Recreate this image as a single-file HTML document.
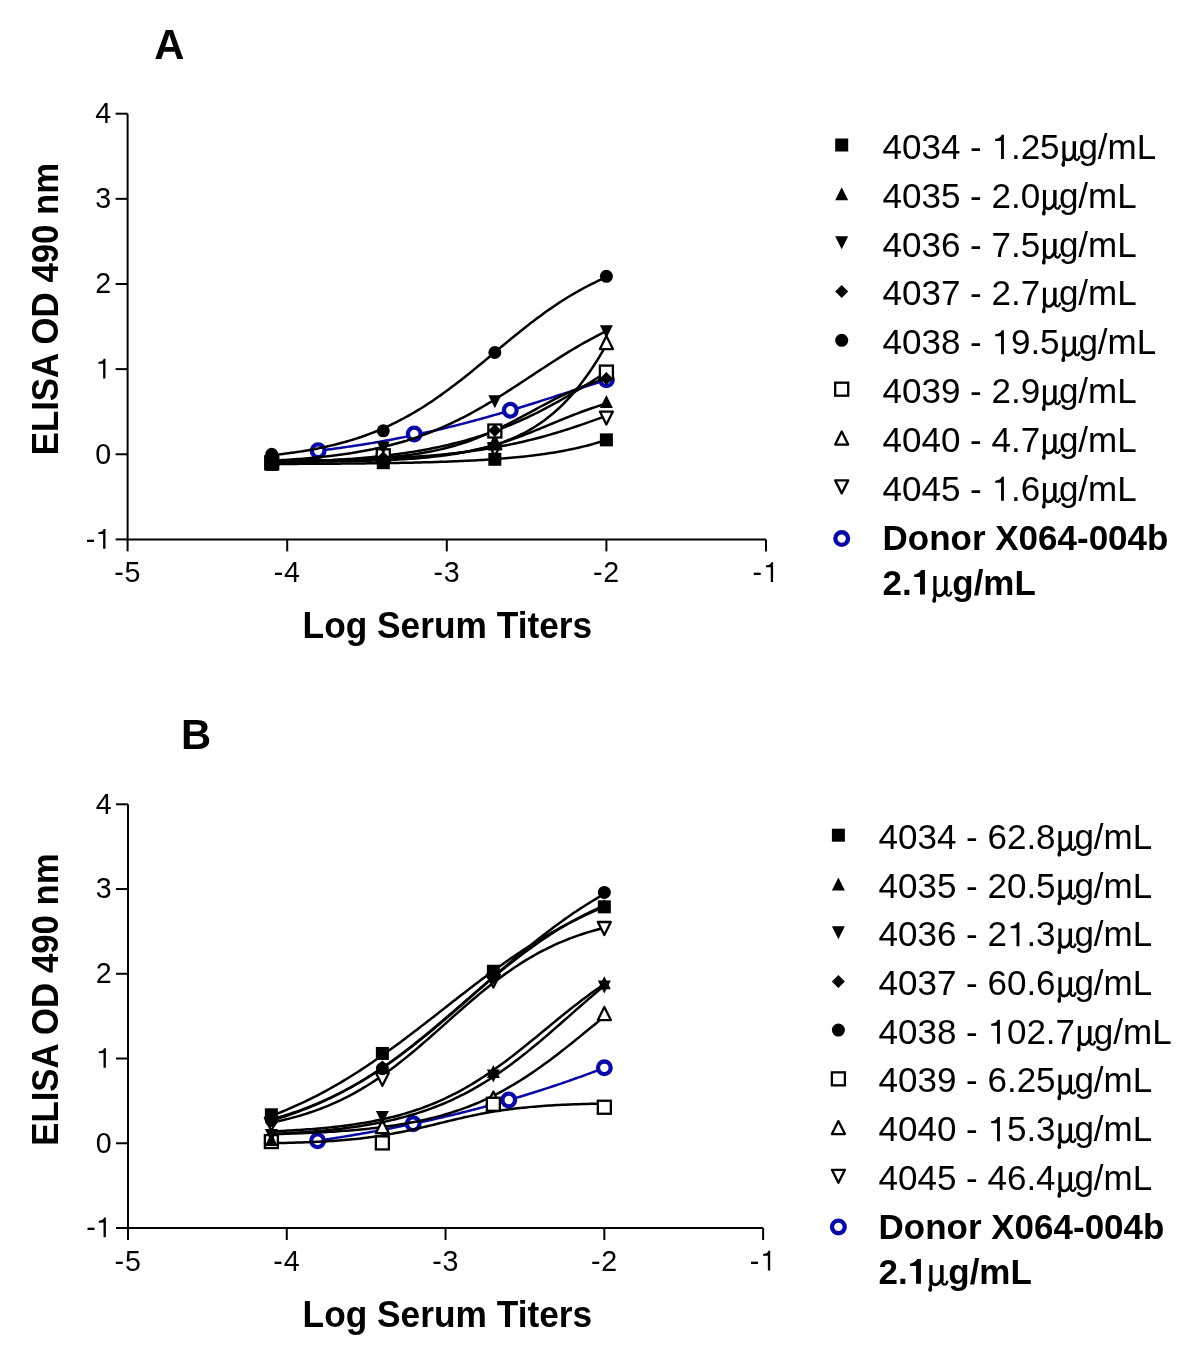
<!DOCTYPE html>
<html><head><meta charset="utf-8"><style>
html,body{margin:0;padding:0;background:#fff;}
svg{display:block;will-change:transform;}
</style></head><body>
<svg width="1196" height="1357" viewBox="0 0 1196 1357">
<rect width="1196" height="1357" fill="#fff"/>
<path d="M127.60,113.70 V539.40 H766.00" fill="none" stroke="#000" stroke-width="2"/>
<line x1="115.60" y1="539.40" x2="127.60" y2="539.40" stroke="#000" stroke-width="2"/>
<text x="85.77" y="548.70" font-size="28.6" font-family="Liberation Sans, sans-serif">- </text><path transform="translate(95.29,548.70) scale(28.6)" d="M0.356,0 L0.356,-0.688 L0.29,-0.688 C0.283,-0.645 0.25,-0.607 0.2,-0.592 C0.16,-0.58 0.13,-0.576 0.107,-0.574 L0.107,-0.512 L0.274,-0.515 L0.274,0 Z" fill="#000"/>
<line x1="115.60" y1="454.26" x2="127.60" y2="454.26" stroke="#000" stroke-width="2"/>
<text x="95.29" y="463.56" font-size="28.6" font-family="Liberation Sans, sans-serif">0</text>
<line x1="115.60" y1="369.12" x2="127.60" y2="369.12" stroke="#000" stroke-width="2"/>
<text x="95.29" y="378.42" font-size="28.6" font-family="Liberation Sans, sans-serif"> </text><path transform="translate(95.29,378.42) scale(28.6)" d="M0.356,0 L0.356,-0.688 L0.29,-0.688 C0.283,-0.645 0.25,-0.607 0.2,-0.592 C0.16,-0.58 0.13,-0.576 0.107,-0.574 L0.107,-0.512 L0.274,-0.515 L0.274,0 Z" fill="#000"/>
<line x1="115.60" y1="283.98" x2="127.60" y2="283.98" stroke="#000" stroke-width="2"/>
<text x="95.29" y="293.28" font-size="28.6" font-family="Liberation Sans, sans-serif">2</text>
<line x1="115.60" y1="198.84" x2="127.60" y2="198.84" stroke="#000" stroke-width="2"/>
<text x="95.29" y="208.14" font-size="28.6" font-family="Liberation Sans, sans-serif">3</text>
<line x1="115.60" y1="113.70" x2="127.60" y2="113.70" stroke="#000" stroke-width="2"/>
<text x="95.29" y="123.00" font-size="28.6" font-family="Liberation Sans, sans-serif">4</text>
<line x1="127.60" y1="539.40" x2="127.60" y2="551.40" stroke="#000" stroke-width="2"/>
<text x="114.19" y="581.90" font-size="28.6" font-family="Liberation Sans, sans-serif">-</text><text x="124.51" y="581.90" font-size="28.6" font-family="Liberation Sans, sans-serif">5</text>
<line x1="287.20" y1="539.40" x2="287.20" y2="551.40" stroke="#000" stroke-width="2"/>
<text x="273.79" y="581.90" font-size="28.6" font-family="Liberation Sans, sans-serif">-</text><text x="284.11" y="581.90" font-size="28.6" font-family="Liberation Sans, sans-serif">4</text>
<line x1="446.80" y1="539.40" x2="446.80" y2="551.40" stroke="#000" stroke-width="2"/>
<text x="433.39" y="581.90" font-size="28.6" font-family="Liberation Sans, sans-serif">-</text><text x="443.71" y="581.90" font-size="28.6" font-family="Liberation Sans, sans-serif">3</text>
<line x1="606.40" y1="539.40" x2="606.40" y2="551.40" stroke="#000" stroke-width="2"/>
<text x="592.99" y="581.90" font-size="28.6" font-family="Liberation Sans, sans-serif">-</text><text x="603.31" y="581.90" font-size="28.6" font-family="Liberation Sans, sans-serif">2</text>
<line x1="766.00" y1="539.40" x2="766.00" y2="551.40" stroke="#000" stroke-width="2"/>
<text x="752.59" y="581.90" font-size="28.6" font-family="Liberation Sans, sans-serif">-</text><text x="762.91" y="581.90" font-size="28.6" font-family="Liberation Sans, sans-serif"> </text><path transform="translate(762.91,581.90) scale(28.6)" d="M0.356,0 L0.356,-0.688 L0.29,-0.688 C0.283,-0.645 0.25,-0.607 0.2,-0.592 C0.16,-0.58 0.13,-0.576 0.107,-0.574 L0.107,-0.512 L0.274,-0.515 L0.274,0 Z" fill="#000"/>
<text transform="translate(302.6,637.80) scale(1,1.025)" font-size="35.3" font-weight="bold" font-family="Liberation Sans, sans-serif">Log Serum Titers</text>
<text transform="translate(58.0,455.26) rotate(-90) scale(1,1.045)" x="0" y="0" font-size="34.8" font-weight="bold" font-family="Liberation Sans, sans-serif">ELISA OD 490 nm</text>
<text transform="translate(154.2,58.9) scale(1,1.04)" font-size="41.7" font-weight="bold" font-family="Liberation Sans, sans-serif">A</text>
<path d="M318.16,450.73 L320.58,450.44 L323.01,450.14 L325.43,449.84 L327.85,449.53 L330.27,449.21 L332.70,448.90 L335.12,448.57 L337.54,448.25 L339.96,447.91 L342.38,447.58 L344.81,447.23 L347.23,446.88 L349.65,446.53 L352.07,446.17 L354.49,445.81 L356.92,445.44 L359.34,445.07 L361.76,444.69 L364.18,444.30 L366.61,443.91 L369.03,443.51 L371.45,443.11 L373.87,442.70 L376.29,442.29 L378.72,441.87 L381.14,441.45 L383.56,441.02 L385.98,440.58 L388.41,440.14 L390.83,439.69 L393.25,439.24 L395.67,438.78 L398.09,438.31 L400.52,437.84 L402.94,437.36 L405.36,436.88 L407.78,436.39 L410.20,435.90 L412.63,435.40 L415.05,434.89 L417.47,434.38 L419.89,433.86 L422.32,433.33 L424.74,432.80 L427.16,432.26 L429.58,431.72 L432.00,431.17 L434.43,430.61 L436.85,430.05 L439.27,429.49 L441.69,428.91 L444.11,428.33 L446.54,427.75 L448.96,427.16 L451.38,426.56 L453.80,425.96 L456.23,425.35 L458.65,424.74 L461.07,424.12 L463.49,423.49 L465.91,422.86 L468.34,422.22 L470.76,421.58 L473.18,420.93 L475.60,420.28 L478.03,419.62 L480.45,418.96 L482.87,418.29 L485.29,417.62 L487.71,416.94 L490.14,416.26 L492.56,415.57 L494.98,414.87 L497.40,414.18 L499.82,413.47 L502.25,412.77 L504.67,412.05 L507.09,411.34 L509.51,410.62 L511.94,409.89 L514.36,409.17 L516.78,408.43 L519.20,407.70 L521.62,406.96 L524.05,406.21 L526.47,405.47 L528.89,404.72 L531.31,403.96 L533.74,403.21 L536.16,402.45 L538.58,401.69 L541.00,400.92 L543.42,400.16 L545.85,399.39 L548.27,398.62 L550.69,397.84 L553.11,397.07 L555.53,396.29 L557.96,395.51 L560.38,394.73 L562.80,393.95 L565.22,393.17 L567.65,392.38 L570.07,391.60 L572.49,390.81 L574.91,390.03 L577.33,389.24 L579.76,388.45 L582.18,387.67 L584.60,386.88 L587.02,386.09 L589.44,385.31 L591.87,384.52 L594.29,383.74 L596.71,382.95 L599.13,382.17 L601.56,381.39 L603.98,380.61 L606.40,379.83" fill="none" stroke="#0b0aa4" stroke-width="2.5"/>
<circle cx="318.16" cy="450.68" r="6.35" fill="#fff" stroke="#0b0aa4" stroke-width="4.3"/>
<circle cx="414.24" cy="434.00" r="6.35" fill="#fff" stroke="#0b0aa4" stroke-width="4.3"/>
<circle cx="510.32" cy="410.24" r="6.35" fill="#fff" stroke="#0b0aa4" stroke-width="4.3"/>
<circle cx="606.40" cy="379.68" r="6.35" fill="#fff" stroke="#0b0aa4" stroke-width="4.3"/>
<path d="M271.72,461.07 L274.53,461.04 L277.34,461.02 L280.16,460.99 L282.97,460.96 L285.78,460.92 L288.59,460.89 L291.41,460.86 L294.22,460.82 L297.03,460.78 L299.84,460.74 L302.66,460.70 L305.47,460.66 L308.28,460.62 L311.09,460.57 L313.91,460.53 L316.72,460.48 L319.53,460.42 L322.34,460.37 L325.16,460.32 L327.97,460.26 L330.78,460.20 L333.59,460.14 L336.41,460.07 L339.22,460.00 L342.03,459.93 L344.84,459.86 L347.65,459.78 L350.47,459.70 L353.28,459.62 L356.09,459.54 L358.90,459.45 L361.72,459.36 L364.53,459.26 L367.34,459.16 L370.15,459.06 L372.97,458.95 L375.78,458.84 L378.59,458.72 L381.40,458.60 L384.22,458.47 L387.03,458.34 L389.84,458.21 L392.65,458.07 L395.47,457.92 L398.28,457.77 L401.09,457.61 L403.90,457.45 L406.72,457.28 L409.53,457.10 L412.34,456.92 L415.15,456.73 L417.97,456.54 L420.78,456.33 L423.59,456.12 L426.40,455.90 L429.22,455.67 L432.03,455.44 L434.84,455.19 L437.65,454.94 L440.47,454.68 L443.28,454.41 L446.09,454.13 L448.90,453.84 L451.72,453.54 L454.53,453.23 L457.34,452.90 L460.15,452.57 L462.97,452.23 L465.78,451.87 L468.59,451.50 L471.40,451.12 L474.21,450.73 L477.03,450.33 L479.84,449.91 L482.65,449.48 L485.46,449.03 L488.28,448.57 L491.09,448.10 L493.90,447.61 L496.71,447.11 L499.53,446.60 L502.34,446.07 L505.15,445.52 L507.96,444.96 L510.78,444.38 L513.59,443.79 L516.40,443.18 L519.21,442.55 L522.03,441.91 L524.84,441.26 L527.65,440.58 L530.46,439.89 L533.28,439.19 L536.09,438.47 L538.90,437.73 L541.71,436.98 L544.53,436.20 L547.34,435.42 L550.15,434.62 L552.96,433.80 L555.78,432.97 L558.59,432.12 L561.40,431.26 L564.21,430.38 L567.03,429.49 L569.84,428.59 L572.65,427.67 L575.46,426.74 L578.28,425.80 L581.09,424.85 L583.90,423.88 L586.71,422.91 L589.53,421.93 L592.34,420.93 L595.15,419.93 L597.96,418.92 L600.78,417.91 L603.59,416.89 L606.40,415.86" fill="none" stroke="#000" stroke-width="2.5"/>
<path d="M271.72,460.66 L274.53,460.64 L277.34,460.63 L280.16,460.62 L282.97,460.60 L285.78,460.59 L288.59,460.58 L291.41,460.56 L294.22,460.54 L297.03,460.52 L299.84,460.50 L302.66,460.48 L305.47,460.46 L308.28,460.44 L311.09,460.42 L313.91,460.39 L316.72,460.36 L319.53,460.34 L322.34,460.31 L325.16,460.28 L327.97,460.24 L330.78,460.21 L333.59,460.17 L336.41,460.13 L339.22,460.09 L342.03,460.05 L344.84,460.00 L347.65,459.95 L350.47,459.90 L353.28,459.84 L356.09,459.79 L358.90,459.73 L361.72,459.66 L364.53,459.59 L367.34,459.52 L370.15,459.44 L372.97,459.36 L375.78,459.28 L378.59,459.19 L381.40,459.09 L384.22,458.99 L387.03,458.89 L389.84,458.78 L392.65,458.66 L395.47,458.53 L398.28,458.40 L401.09,458.26 L403.90,458.11 L406.72,457.96 L409.53,457.79 L412.34,457.62 L415.15,457.44 L417.97,457.24 L420.78,457.04 L423.59,456.82 L426.40,456.59 L429.22,456.35 L432.03,456.10 L434.84,455.83 L437.65,455.55 L440.47,455.25 L443.28,454.93 L446.09,454.59 L448.90,454.24 L451.72,453.87 L454.53,453.48 L457.34,453.06 L460.15,452.62 L462.97,452.16 L465.78,451.68 L468.59,451.16 L471.40,450.62 L474.21,450.05 L477.03,449.45 L479.84,448.81 L482.65,448.14 L485.46,447.43 L488.28,446.69 L491.09,445.90 L493.90,445.08 L496.71,444.21 L499.53,443.29 L502.34,442.32 L505.15,441.30 L507.96,440.23 L510.78,439.11 L513.59,437.92 L516.40,436.67 L519.21,435.36 L522.03,433.99 L524.84,432.54 L527.65,431.01 L530.46,429.42 L533.28,427.74 L536.09,425.98 L538.90,424.13 L541.71,422.19 L544.53,420.16 L547.34,418.03 L550.15,415.80 L552.96,413.46 L555.78,411.02 L558.59,408.47 L561.40,405.80 L564.21,403.01 L567.03,400.10 L569.84,397.06 L572.65,393.89 L575.46,390.59 L578.28,387.16 L581.09,383.58 L583.90,379.86 L586.71,376.00 L589.53,371.99 L592.34,367.84 L595.15,363.53 L597.96,359.07 L600.78,354.46 L603.59,349.70 L606.40,344.78" fill="none" stroke="#000" stroke-width="2.5"/>
<path d="M271.72,462.77 L274.53,462.69 L277.34,462.61 L280.16,462.52 L282.97,462.42 L285.78,462.33 L288.59,462.23 L291.41,462.13 L294.22,462.02 L297.03,461.91 L299.84,461.80 L302.66,461.68 L305.47,461.56 L308.28,461.43 L311.09,461.30 L313.91,461.16 L316.72,461.02 L319.53,460.88 L322.34,460.72 L325.16,460.57 L327.97,460.41 L330.78,460.24 L333.59,460.07 L336.41,459.89 L339.22,459.70 L342.03,459.51 L344.84,459.31 L347.65,459.10 L350.47,458.89 L353.28,458.67 L356.09,458.44 L358.90,458.21 L361.72,457.96 L364.53,457.71 L367.34,457.45 L370.15,457.18 L372.97,456.90 L375.78,456.61 L378.59,456.31 L381.40,456.00 L384.22,455.69 L387.03,455.36 L389.84,455.02 L392.65,454.66 L395.47,454.30 L398.28,453.92 L401.09,453.54 L403.90,453.14 L406.72,452.72 L409.53,452.30 L412.34,451.86 L415.15,451.40 L417.97,450.93 L420.78,450.45 L423.59,449.95 L426.40,449.43 L429.22,448.90 L432.03,448.35 L434.84,447.79 L437.65,447.21 L440.47,446.61 L443.28,445.99 L446.09,445.36 L448.90,444.70 L451.72,444.03 L454.53,443.33 L457.34,442.62 L460.15,441.89 L462.97,441.13 L465.78,440.36 L468.59,439.56 L471.40,438.74 L474.21,437.90 L477.03,437.03 L479.84,436.15 L482.65,435.24 L485.46,434.30 L488.28,433.35 L491.09,432.36 L493.90,431.36 L496.71,430.33 L499.53,429.27 L502.34,428.19 L505.15,427.09 L507.96,425.95 L510.78,424.80 L513.59,423.62 L516.40,422.41 L519.21,421.18 L522.03,419.92 L524.84,418.64 L527.65,417.33 L530.46,415.99 L533.28,414.63 L536.09,413.25 L538.90,411.84 L541.71,410.41 L544.53,408.95 L547.34,407.47 L550.15,405.97 L552.96,404.45 L555.78,402.90 L558.59,401.33 L561.40,399.74 L564.21,398.13 L567.03,396.50 L569.84,394.85 L572.65,393.18 L575.46,391.50 L578.28,389.80 L581.09,388.08 L583.90,386.35 L586.71,384.61 L589.53,382.85 L592.34,381.08 L595.15,379.30 L597.96,377.51 L600.78,375.71 L603.59,373.91 L606.40,372.10" fill="none" stroke="#000" stroke-width="2.5"/>
<path d="M271.72,455.24 L274.53,454.94 L277.34,454.63 L280.16,454.30 L282.97,453.96 L285.78,453.61 L288.59,453.25 L291.41,452.86 L294.22,452.47 L297.03,452.05 L299.84,451.62 L302.66,451.18 L305.47,450.71 L308.28,450.23 L311.09,449.73 L313.91,449.21 L316.72,448.67 L319.53,448.11 L322.34,447.53 L325.16,446.92 L327.97,446.30 L330.78,445.65 L333.59,444.97 L336.41,444.27 L339.22,443.55 L342.03,442.80 L344.84,442.02 L347.65,441.21 L350.47,440.38 L353.28,439.51 L356.09,438.62 L358.90,437.70 L361.72,436.74 L364.53,435.75 L367.34,434.73 L370.15,433.68 L372.97,432.59 L375.78,431.47 L378.59,430.31 L381.40,429.12 L384.22,427.89 L387.03,426.63 L389.84,425.32 L392.65,423.98 L395.47,422.61 L398.28,421.19 L401.09,419.73 L403.90,418.24 L406.72,416.71 L409.53,415.14 L412.34,413.53 L415.15,411.88 L417.97,410.19 L420.78,408.47 L423.59,406.70 L426.40,404.90 L429.22,403.07 L432.03,401.19 L434.84,399.28 L437.65,397.34 L440.47,395.36 L443.28,393.34 L446.09,391.30 L448.90,389.22 L451.72,387.12 L454.53,384.99 L457.34,382.83 L460.15,380.64 L462.97,378.43 L465.78,376.20 L468.59,373.95 L471.40,371.68 L474.21,369.39 L477.03,367.09 L479.84,364.77 L482.65,362.45 L485.46,360.12 L488.28,357.78 L491.09,355.43 L493.90,353.09 L496.71,350.74 L499.53,348.40 L502.34,346.06 L505.15,343.73 L507.96,341.40 L510.78,339.09 L513.59,336.79 L516.40,334.50 L519.21,332.23 L522.03,329.98 L524.84,327.75 L527.65,325.55 L530.46,323.36 L533.28,321.21 L536.09,319.08 L538.90,316.97 L541.71,314.90 L544.53,312.86 L547.34,310.85 L550.15,308.87 L552.96,306.93 L555.78,305.02 L558.59,303.15 L561.40,301.32 L564.21,299.52 L567.03,297.76 L569.84,296.04 L572.65,294.36 L575.46,292.71 L578.28,291.10 L581.09,289.54 L583.90,288.01 L586.71,286.52 L589.53,285.07 L592.34,283.65 L595.15,282.28 L597.96,280.94 L600.78,279.64 L603.59,278.38 L606.40,277.16" fill="none" stroke="#000" stroke-width="2.5"/>
<path d="M271.72,461.07 L274.53,461.05 L277.34,461.03 L280.16,461.00 L282.97,460.98 L285.78,460.95 L288.59,460.92 L291.41,460.89 L294.22,460.86 L297.03,460.82 L299.84,460.79 L302.66,460.75 L305.47,460.71 L308.28,460.66 L311.09,460.62 L313.91,460.57 L316.72,460.51 L319.53,460.46 L322.34,460.40 L325.16,460.33 L327.97,460.27 L330.78,460.19 L333.59,460.12 L336.41,460.04 L339.22,459.95 L342.03,459.86 L344.84,459.76 L347.65,459.66 L350.47,459.55 L353.28,459.44 L356.09,459.31 L358.90,459.18 L361.72,459.04 L364.53,458.90 L367.34,458.74 L370.15,458.58 L372.97,458.40 L375.78,458.22 L378.59,458.02 L381.40,457.81 L384.22,457.59 L387.03,457.36 L389.84,457.11 L392.65,456.85 L395.47,456.57 L398.28,456.28 L401.09,455.97 L403.90,455.64 L406.72,455.30 L409.53,454.94 L412.34,454.55 L415.15,454.15 L417.97,453.72 L420.78,453.27 L423.59,452.80 L426.40,452.30 L429.22,451.77 L432.03,451.22 L434.84,450.64 L437.65,450.03 L440.47,449.40 L443.28,448.73 L446.09,448.03 L448.90,447.30 L451.72,446.54 L454.53,445.74 L457.34,444.91 L460.15,444.04 L462.97,443.14 L465.78,442.20 L468.59,441.22 L471.40,440.21 L474.21,439.17 L477.03,438.08 L479.84,436.96 L482.65,435.81 L485.46,434.62 L488.28,433.40 L491.09,432.14 L493.90,430.86 L496.71,429.54 L499.53,428.19 L502.34,426.82 L505.15,425.42 L507.96,424.00 L510.78,422.55 L513.59,421.09 L516.40,419.61 L519.21,418.12 L522.03,416.61 L524.84,415.10 L527.65,413.58 L530.46,412.06 L533.28,410.54 L536.09,409.03 L538.90,407.51 L541.71,406.01 L544.53,404.52 L547.34,403.05 L550.15,401.59 L552.96,400.15 L555.78,398.73 L558.59,397.34 L561.40,395.97 L564.21,394.63 L567.03,393.32 L569.84,392.05 L572.65,390.80 L575.46,389.58 L578.28,388.40 L581.09,387.26 L583.90,386.15 L586.71,385.08 L589.53,384.04 L592.34,383.04 L595.15,382.07 L597.96,381.14 L600.78,380.25 L603.59,379.39 L606.40,378.57" fill="none" stroke="#000" stroke-width="2.5"/>
<path d="M271.72,460.69 L274.53,460.54 L277.34,460.39 L280.16,460.23 L282.97,460.06 L285.78,459.88 L288.59,459.70 L291.41,459.51 L294.22,459.31 L297.03,459.11 L299.84,458.89 L302.66,458.67 L305.47,458.44 L308.28,458.20 L311.09,457.95 L313.91,457.69 L316.72,457.42 L319.53,457.14 L322.34,456.85 L325.16,456.54 L327.97,456.23 L330.78,455.90 L333.59,455.56 L336.41,455.20 L339.22,454.83 L342.03,454.45 L344.84,454.05 L347.65,453.64 L350.47,453.22 L353.28,452.77 L356.09,452.31 L358.90,451.83 L361.72,451.34 L364.53,450.83 L367.34,450.29 L370.15,449.74 L372.97,449.17 L375.78,448.58 L378.59,447.97 L381.40,447.33 L384.22,446.68 L387.03,446.00 L389.84,445.30 L392.65,444.57 L395.47,443.83 L398.28,443.05 L401.09,442.25 L403.90,441.43 L406.72,440.58 L409.53,439.70 L412.34,438.79 L415.15,437.86 L417.97,436.90 L420.78,435.91 L423.59,434.90 L426.40,433.85 L429.22,432.77 L432.03,431.67 L434.84,430.53 L437.65,429.37 L440.47,428.17 L443.28,426.95 L446.09,425.69 L448.90,424.41 L451.72,423.09 L454.53,421.74 L457.34,420.37 L460.15,418.96 L462.97,417.53 L465.78,416.07 L468.59,414.58 L471.40,413.06 L474.21,411.51 L477.03,409.94 L479.84,408.34 L482.65,406.72 L485.46,405.07 L488.28,403.40 L491.09,401.71 L493.90,400.00 L496.71,398.27 L499.53,396.52 L502.34,394.75 L505.15,392.97 L507.96,391.17 L510.78,389.36 L513.59,387.54 L516.40,385.71 L519.21,383.87 L522.03,382.03 L524.84,380.17 L527.65,378.32 L530.46,376.46 L533.28,374.61 L536.09,372.75 L538.90,370.90 L541.71,369.05 L544.53,367.21 L547.34,365.38 L550.15,363.55 L552.96,361.74 L555.78,359.94 L558.59,358.16 L561.40,356.39 L564.21,354.63 L567.03,352.90 L569.84,351.18 L572.65,349.49 L575.46,347.81 L578.28,346.16 L581.09,344.54 L583.90,342.93 L586.71,341.36 L589.53,339.81 L592.34,338.28 L595.15,336.79 L597.96,335.32 L600.78,333.88 L603.59,332.47 L606.40,331.09" fill="none" stroke="#000" stroke-width="2.5"/>
<path d="M271.72,461.92 L274.53,461.91 L277.34,461.90 L280.16,461.89 L282.97,461.88 L285.78,461.86 L288.59,461.85 L291.41,461.83 L294.22,461.82 L297.03,461.80 L299.84,461.78 L302.66,461.76 L305.47,461.74 L308.28,461.72 L311.09,461.70 L313.91,461.67 L316.72,461.65 L319.53,461.62 L322.34,461.59 L325.16,461.56 L327.97,461.52 L330.78,461.49 L333.59,461.45 L336.41,461.41 L339.22,461.37 L342.03,461.32 L344.84,461.27 L347.65,461.22 L350.47,461.17 L353.28,461.11 L356.09,461.05 L358.90,460.98 L361.72,460.91 L364.53,460.84 L367.34,460.76 L370.15,460.68 L372.97,460.59 L375.78,460.50 L378.59,460.40 L381.40,460.29 L384.22,460.18 L387.03,460.06 L389.84,459.94 L392.65,459.81 L395.47,459.66 L398.28,459.52 L401.09,459.36 L403.90,459.19 L406.72,459.01 L409.53,458.82 L412.34,458.63 L415.15,458.42 L417.97,458.19 L420.78,457.96 L423.59,457.71 L426.40,457.45 L429.22,457.17 L432.03,456.88 L434.84,456.57 L437.65,456.25 L440.47,455.91 L443.28,455.55 L446.09,455.17 L448.90,454.77 L451.72,454.35 L454.53,453.91 L457.34,453.45 L460.15,452.96 L462.97,452.45 L465.78,451.92 L468.59,451.36 L471.40,450.78 L474.21,450.18 L477.03,449.54 L479.84,448.88 L482.65,448.19 L485.46,447.48 L488.28,446.74 L491.09,445.97 L493.90,445.17 L496.71,444.34 L499.53,443.49 L502.34,442.61 L505.15,441.70 L507.96,440.77 L510.78,439.81 L513.59,438.82 L516.40,437.81 L519.21,436.78 L522.03,435.73 L524.84,434.66 L527.65,433.57 L530.46,432.47 L533.28,431.35 L536.09,430.21 L538.90,429.07 L541.71,427.91 L544.53,426.75 L547.34,425.59 L550.15,424.42 L552.96,423.25 L555.78,422.09 L558.59,420.92 L561.40,419.77 L564.21,418.62 L567.03,417.48 L569.84,416.36 L572.65,415.25 L575.46,414.16 L578.28,413.08 L581.09,412.03 L583.90,410.99 L586.71,409.98 L589.53,408.99 L592.34,408.03 L595.15,407.09 L597.96,406.18 L600.78,405.29 L603.59,404.43 L606.40,403.60" fill="none" stroke="#000" stroke-width="2.5"/>
<path d="M271.72,463.97 L274.53,463.96 L277.34,463.95 L280.16,463.95 L282.97,463.94 L285.78,463.93 L288.59,463.92 L291.41,463.90 L294.22,463.89 L297.03,463.88 L299.84,463.87 L302.66,463.86 L305.47,463.84 L308.28,463.83 L311.09,463.82 L313.91,463.80 L316.72,463.79 L319.53,463.77 L322.34,463.75 L325.16,463.74 L327.97,463.72 L330.78,463.70 L333.59,463.68 L336.41,463.66 L339.22,463.64 L342.03,463.61 L344.84,463.59 L347.65,463.57 L350.47,463.54 L353.28,463.52 L356.09,463.49 L358.90,463.46 L361.72,463.43 L364.53,463.40 L367.34,463.37 L370.15,463.33 L372.97,463.30 L375.78,463.26 L378.59,463.23 L381.40,463.19 L384.22,463.15 L387.03,463.10 L389.84,463.06 L392.65,463.01 L395.47,462.96 L398.28,462.91 L401.09,462.86 L403.90,462.81 L406.72,462.75 L409.53,462.69 L412.34,462.63 L415.15,462.57 L417.97,462.50 L420.78,462.43 L423.59,462.36 L426.40,462.29 L429.22,462.21 L432.03,462.13 L434.84,462.04 L437.65,461.95 L440.47,461.86 L443.28,461.77 L446.09,461.67 L448.90,461.56 L451.72,461.46 L454.53,461.35 L457.34,461.23 L460.15,461.11 L462.97,460.98 L465.78,460.85 L468.59,460.71 L471.40,460.57 L474.21,460.42 L477.03,460.27 L479.84,460.11 L482.65,459.94 L485.46,459.77 L488.28,459.58 L491.09,459.40 L493.90,459.20 L496.71,459.00 L499.53,458.78 L502.34,458.56 L505.15,458.33 L507.96,458.09 L510.78,457.85 L513.59,457.59 L516.40,457.32 L519.21,457.04 L522.03,456.74 L524.84,456.44 L527.65,456.13 L530.46,455.80 L533.28,455.46 L536.09,455.10 L538.90,454.73 L541.71,454.35 L544.53,453.95 L547.34,453.53 L550.15,453.10 L552.96,452.65 L555.78,452.19 L558.59,451.70 L561.40,451.20 L564.21,450.68 L567.03,450.13 L569.84,449.57 L572.65,448.98 L575.46,448.37 L578.28,447.73 L581.09,447.08 L583.90,446.39 L586.71,445.68 L589.53,444.94 L592.34,444.18 L595.15,443.38 L597.96,442.56 L600.78,441.70 L603.59,440.81 L606.40,439.89" fill="none" stroke="#000" stroke-width="2.5"/>
<polygon points="271.72,469.74 278.22,456.74 265.22,456.74" fill="#fff" stroke="#000" stroke-width="2.3" stroke-linejoin="round"/>
<polygon points="383.28,467.18 389.78,454.18 376.78,454.18" fill="#fff" stroke="#000" stroke-width="2.3" stroke-linejoin="round"/>
<polygon points="494.84,456.12 501.34,443.12 488.34,443.12" fill="#fff" stroke="#000" stroke-width="2.3" stroke-linejoin="round"/>
<polygon points="606.40,424.53 612.90,411.53 599.90,411.53" fill="#fff" stroke="#000" stroke-width="2.3" stroke-linejoin="round"/>
<polygon points="271.72,452.40 278.22,465.40 265.22,465.40" fill="#fff" stroke="#000" stroke-width="2.3" stroke-linejoin="round"/>
<polygon points="383.28,449.85 389.78,462.85 376.78,462.85" fill="#fff" stroke="#000" stroke-width="2.3" stroke-linejoin="round"/>
<polygon points="494.84,436.23 501.34,449.23 488.34,449.23" fill="#fff" stroke="#000" stroke-width="2.3" stroke-linejoin="round"/>
<polygon points="606.40,336.10 612.90,349.10 599.90,349.10" fill="#fff" stroke="#000" stroke-width="2.3" stroke-linejoin="round"/>
<rect x="265.22" y="456.27" width="13.00" height="13.00" fill="#fff" stroke="#000" stroke-width="2.3"/>
<rect x="376.78" y="449.29" width="13.00" height="13.00" fill="#fff" stroke="#000" stroke-width="2.3"/>
<rect x="488.34" y="424.52" width="13.00" height="13.00" fill="#fff" stroke="#000" stroke-width="2.3"/>
<rect x="599.90" y="365.60" width="13.00" height="13.00" fill="#fff" stroke="#000" stroke-width="2.3"/>
<circle cx="271.72" cy="454.26" r="6.50" fill="#000"/>
<circle cx="383.28" cy="430.85" r="6.50" fill="#000"/>
<circle cx="494.84" cy="352.52" r="6.50" fill="#000"/>
<circle cx="606.40" cy="276.32" r="6.50" fill="#000"/>
<polygon points="271.72,454.57 278.22,461.07 271.72,467.57 265.22,461.07" fill="#000"/>
<polygon points="383.28,451.17 389.78,457.67 383.28,464.17 376.78,457.67" fill="#000"/>
<polygon points="494.84,423.92 501.34,430.42 494.84,436.92 488.34,430.42" fill="#000"/>
<polygon points="606.40,372.07 612.90,378.57 606.40,385.07 599.90,378.57" fill="#000"/>
<polygon points="271.72,469.74 278.22,456.74 265.22,456.74" fill="#000"/>
<polygon points="383.28,454.41 389.78,441.41 376.78,441.41" fill="#000"/>
<polygon points="494.84,408.27 501.34,395.27 488.34,395.27" fill="#000"/>
<polygon points="606.40,338.28 612.90,325.28 599.90,325.28" fill="#000"/>
<polygon points="271.72,453.26 278.22,466.26 265.22,466.26" fill="#000"/>
<polygon points="383.28,451.55 389.78,464.55 376.78,464.55" fill="#000"/>
<polygon points="494.84,436.23 501.34,449.23 488.34,449.23" fill="#000"/>
<polygon points="606.40,394.94 612.90,407.94 599.90,407.94" fill="#000"/>
<rect x="265.22" y="457.81" width="13.00" height="13.00" fill="#000"/>
<rect x="376.78" y="456.19" width="13.00" height="13.00" fill="#000"/>
<rect x="488.34" y="452.78" width="13.00" height="13.00" fill="#000"/>
<rect x="599.90" y="433.37" width="13.00" height="13.00" fill="#000"/>
<rect x="835.20" y="138.50" width="13.00" height="13.00" fill="#000"/>
<text x="882.50" y="158.90" font-size="35" font-family="Liberation Sans, sans-serif">4034 -  .25</text><path transform="translate(991.46,158.90) scale(35)" d="M0.356,0 L0.356,-0.688 L0.29,-0.688 C0.283,-0.645 0.25,-0.607 0.2,-0.592 C0.16,-0.58 0.13,-0.576 0.107,-0.574 L0.107,-0.512 L0.274,-0.515 L0.274,0 Z" fill="#000"/>
<g transform="translate(1061.38,158.90) scale(1.000)" fill="none" stroke="#000"><path d="M2.55,-17.7 V0" stroke-width="3.1"/><path d="M1.5,-0.5 C1.5,2.5 0,4 0,5.8 C0,7.2 0.9,7.8 1.85,7.8 C2.8,7.8 3.7,7.2 3.7,5.8 C3.7,4 3.4,2.5 3.4,-0.5 Z" fill="#000" stroke="none"/><path d="M2.55,-4 C2.8,-0.5 4.5,1.0 6.8,1.0 C9.5,1.0 11.5,-1.5 12.9,-5" stroke-width="2.8"/><path d="M12.95,-17.7 V-2.5" stroke-width="3.4"/><path d="M12.95,-3 C13.2,0 14.3,1.0 15.6,1.0 C17,1.0 17.8,-0.5 18.3,-2.8" stroke-width="2.2"/></g>
<text x="1078.38" y="158.90" font-size="35" font-family="Liberation Sans, sans-serif">g/mL</text>
<polygon points="841.70,187.34 848.20,200.34 835.20,200.34" fill="#000"/>
<text x="882.50" y="207.74" font-size="35" font-family="Liberation Sans, sans-serif">4035 - 2.0</text>
<g transform="translate(1041.92,207.74) scale(1.000)" fill="none" stroke="#000"><path d="M2.55,-17.7 V0" stroke-width="3.1"/><path d="M1.5,-0.5 C1.5,2.5 0,4 0,5.8 C0,7.2 0.9,7.8 1.85,7.8 C2.8,7.8 3.7,7.2 3.7,5.8 C3.7,4 3.4,2.5 3.4,-0.5 Z" fill="#000" stroke="none"/><path d="M2.55,-4 C2.8,-0.5 4.5,1.0 6.8,1.0 C9.5,1.0 11.5,-1.5 12.9,-5" stroke-width="2.8"/><path d="M12.95,-17.7 V-2.5" stroke-width="3.4"/><path d="M12.95,-3 C13.2,0 14.3,1.0 15.6,1.0 C17,1.0 17.8,-0.5 18.3,-2.8" stroke-width="2.2"/></g>
<text x="1058.92" y="207.74" font-size="35" font-family="Liberation Sans, sans-serif">g/mL</text>
<polygon points="841.70,249.18 848.20,236.18 835.20,236.18" fill="#000"/>
<text x="882.50" y="256.58" font-size="35" font-family="Liberation Sans, sans-serif">4036 - 7.5</text>
<g transform="translate(1041.92,256.58) scale(1.000)" fill="none" stroke="#000"><path d="M2.55,-17.7 V0" stroke-width="3.1"/><path d="M1.5,-0.5 C1.5,2.5 0,4 0,5.8 C0,7.2 0.9,7.8 1.85,7.8 C2.8,7.8 3.7,7.2 3.7,5.8 C3.7,4 3.4,2.5 3.4,-0.5 Z" fill="#000" stroke="none"/><path d="M2.55,-4 C2.8,-0.5 4.5,1.0 6.8,1.0 C9.5,1.0 11.5,-1.5 12.9,-5" stroke-width="2.8"/><path d="M12.95,-17.7 V-2.5" stroke-width="3.4"/><path d="M12.95,-3 C13.2,0 14.3,1.0 15.6,1.0 C17,1.0 17.8,-0.5 18.3,-2.8" stroke-width="2.2"/></g>
<text x="1058.92" y="256.58" font-size="35" font-family="Liberation Sans, sans-serif">g/mL</text>
<polygon points="841.70,285.02 848.20,291.52 841.70,298.02 835.20,291.52" fill="#000"/>
<text x="882.50" y="305.42" font-size="35" font-family="Liberation Sans, sans-serif">4037 - 2.7</text>
<g transform="translate(1041.92,305.42) scale(1.000)" fill="none" stroke="#000"><path d="M2.55,-17.7 V0" stroke-width="3.1"/><path d="M1.5,-0.5 C1.5,2.5 0,4 0,5.8 C0,7.2 0.9,7.8 1.85,7.8 C2.8,7.8 3.7,7.2 3.7,5.8 C3.7,4 3.4,2.5 3.4,-0.5 Z" fill="#000" stroke="none"/><path d="M2.55,-4 C2.8,-0.5 4.5,1.0 6.8,1.0 C9.5,1.0 11.5,-1.5 12.9,-5" stroke-width="2.8"/><path d="M12.95,-17.7 V-2.5" stroke-width="3.4"/><path d="M12.95,-3 C13.2,0 14.3,1.0 15.6,1.0 C17,1.0 17.8,-0.5 18.3,-2.8" stroke-width="2.2"/></g>
<text x="1058.92" y="305.42" font-size="35" font-family="Liberation Sans, sans-serif">g/mL</text>
<circle cx="841.70" cy="340.36" r="6.50" fill="#000"/>
<text x="882.50" y="354.26" font-size="35" font-family="Liberation Sans, sans-serif">4038 -  9.5</text><path transform="translate(991.46,354.26) scale(35)" d="M0.356,0 L0.356,-0.688 L0.29,-0.688 C0.283,-0.645 0.25,-0.607 0.2,-0.592 C0.16,-0.58 0.13,-0.576 0.107,-0.574 L0.107,-0.512 L0.274,-0.515 L0.274,0 Z" fill="#000"/>
<g transform="translate(1061.38,354.26) scale(1.000)" fill="none" stroke="#000"><path d="M2.55,-17.7 V0" stroke-width="3.1"/><path d="M1.5,-0.5 C1.5,2.5 0,4 0,5.8 C0,7.2 0.9,7.8 1.85,7.8 C2.8,7.8 3.7,7.2 3.7,5.8 C3.7,4 3.4,2.5 3.4,-0.5 Z" fill="#000" stroke="none"/><path d="M2.55,-4 C2.8,-0.5 4.5,1.0 6.8,1.0 C9.5,1.0 11.5,-1.5 12.9,-5" stroke-width="2.8"/><path d="M12.95,-17.7 V-2.5" stroke-width="3.4"/><path d="M12.95,-3 C13.2,0 14.3,1.0 15.6,1.0 C17,1.0 17.8,-0.5 18.3,-2.8" stroke-width="2.2"/></g>
<text x="1078.38" y="354.26" font-size="35" font-family="Liberation Sans, sans-serif">g/mL</text>
<rect x="835.20" y="382.70" width="13.00" height="13.00" fill="#fff" stroke="#000" stroke-width="2.3"/>
<text x="882.50" y="403.10" font-size="35" font-family="Liberation Sans, sans-serif">4039 - 2.9</text>
<g transform="translate(1041.92,403.10) scale(1.000)" fill="none" stroke="#000"><path d="M2.55,-17.7 V0" stroke-width="3.1"/><path d="M1.5,-0.5 C1.5,2.5 0,4 0,5.8 C0,7.2 0.9,7.8 1.85,7.8 C2.8,7.8 3.7,7.2 3.7,5.8 C3.7,4 3.4,2.5 3.4,-0.5 Z" fill="#000" stroke="none"/><path d="M2.55,-4 C2.8,-0.5 4.5,1.0 6.8,1.0 C9.5,1.0 11.5,-1.5 12.9,-5" stroke-width="2.8"/><path d="M12.95,-17.7 V-2.5" stroke-width="3.4"/><path d="M12.95,-3 C13.2,0 14.3,1.0 15.6,1.0 C17,1.0 17.8,-0.5 18.3,-2.8" stroke-width="2.2"/></g>
<text x="1058.92" y="403.10" font-size="35" font-family="Liberation Sans, sans-serif">g/mL</text>
<polygon points="841.70,431.54 848.20,444.54 835.20,444.54" fill="#fff" stroke="#000" stroke-width="2.3" stroke-linejoin="round"/>
<text x="882.50" y="451.94" font-size="35" font-family="Liberation Sans, sans-serif">4040 - 4.7</text>
<g transform="translate(1041.92,451.94) scale(1.000)" fill="none" stroke="#000"><path d="M2.55,-17.7 V0" stroke-width="3.1"/><path d="M1.5,-0.5 C1.5,2.5 0,4 0,5.8 C0,7.2 0.9,7.8 1.85,7.8 C2.8,7.8 3.7,7.2 3.7,5.8 C3.7,4 3.4,2.5 3.4,-0.5 Z" fill="#000" stroke="none"/><path d="M2.55,-4 C2.8,-0.5 4.5,1.0 6.8,1.0 C9.5,1.0 11.5,-1.5 12.9,-5" stroke-width="2.8"/><path d="M12.95,-17.7 V-2.5" stroke-width="3.4"/><path d="M12.95,-3 C13.2,0 14.3,1.0 15.6,1.0 C17,1.0 17.8,-0.5 18.3,-2.8" stroke-width="2.2"/></g>
<text x="1058.92" y="451.94" font-size="35" font-family="Liberation Sans, sans-serif">g/mL</text>
<polygon points="841.70,493.38 848.20,480.38 835.20,480.38" fill="#fff" stroke="#000" stroke-width="2.3" stroke-linejoin="round"/>
<text x="882.50" y="500.78" font-size="35" font-family="Liberation Sans, sans-serif">4045 -  .6</text><path transform="translate(991.46,500.78) scale(35)" d="M0.356,0 L0.356,-0.688 L0.29,-0.688 C0.283,-0.645 0.25,-0.607 0.2,-0.592 C0.16,-0.58 0.13,-0.576 0.107,-0.574 L0.107,-0.512 L0.274,-0.515 L0.274,0 Z" fill="#000"/>
<g transform="translate(1041.92,500.78) scale(1.000)" fill="none" stroke="#000"><path d="M2.55,-17.7 V0" stroke-width="3.1"/><path d="M1.5,-0.5 C1.5,2.5 0,4 0,5.8 C0,7.2 0.9,7.8 1.85,7.8 C2.8,7.8 3.7,7.2 3.7,5.8 C3.7,4 3.4,2.5 3.4,-0.5 Z" fill="#000" stroke="none"/><path d="M2.55,-4 C2.8,-0.5 4.5,1.0 6.8,1.0 C9.5,1.0 11.5,-1.5 12.9,-5" stroke-width="2.8"/><path d="M12.95,-17.7 V-2.5" stroke-width="3.4"/><path d="M12.95,-3 C13.2,0 14.3,1.0 15.6,1.0 C17,1.0 17.8,-0.5 18.3,-2.8" stroke-width="2.2"/></g>
<text x="1058.92" y="500.78" font-size="35" font-family="Liberation Sans, sans-serif">g/mL</text>
<circle cx="841.70" cy="538.60" r="6.35" fill="#fff" stroke="#0b0aa4" stroke-width="4.3"/>
<text transform="translate(882.50,549.62) scale(1,1.025)" font-size="35" font-weight="bold" font-family="Liberation Sans, sans-serif">Donor X064-004b</text>
<g transform="translate(0,594.62) scale(1,1.025)"><text x="882.50" y="0.00" font-size="35" font-weight="bold" font-family="Liberation Sans, sans-serif">2. </text><path transform="translate(911.69,0.00) scale(35)" d="M0.378,0 L0.378,-0.688 L0.27,-0.688 C0.25,-0.64 0.2,-0.6 0.13,-0.577 C0.1,-0.567 0.08,-0.563 0.069,-0.562 L0.069,-0.49 L0.239,-0.49 L0.239,0 Z" fill="#000"/></g>
<g transform="translate(932.25,594.62) scale(1.050)" fill="none" stroke="#000"><path d="M2.55,-17.7 V0" stroke-width="3.1"/><path d="M1.5,-0.5 C1.5,2.5 0,4 0,5.8 C0,7.2 0.9,7.8 1.85,7.8 C2.8,7.8 3.7,7.2 3.7,5.8 C3.7,4 3.4,2.5 3.4,-0.5 Z" fill="#000" stroke="none"/><path d="M2.55,-4 C2.8,-0.5 4.5,1.0 6.8,1.0 C9.5,1.0 11.5,-1.5 12.9,-5" stroke-width="2.8"/><path d="M12.95,-17.7 V-2.5" stroke-width="3.4"/><path d="M12.95,-3 C13.2,0 14.3,1.0 15.6,1.0 C17,1.0 17.8,-0.5 18.3,-2.8" stroke-width="2.2"/></g>
<text transform="translate(952.25,594.62) scale(1,1.025)" font-size="35" font-weight="bold" font-family="Liberation Sans, sans-serif">g/mL</text>
<path d="M128.00,804.30 V1228.00 H763.12" fill="none" stroke="#000" stroke-width="2"/>
<line x1="116.00" y1="1228.00" x2="128.00" y2="1228.00" stroke="#000" stroke-width="2"/>
<text x="86.17" y="1237.30" font-size="28.6" font-family="Liberation Sans, sans-serif">- </text><path transform="translate(95.69,1237.30) scale(28.6)" d="M0.356,0 L0.356,-0.688 L0.29,-0.688 C0.283,-0.645 0.25,-0.607 0.2,-0.592 C0.16,-0.58 0.13,-0.576 0.107,-0.574 L0.107,-0.512 L0.274,-0.515 L0.274,0 Z" fill="#000"/>
<line x1="116.00" y1="1143.26" x2="128.00" y2="1143.26" stroke="#000" stroke-width="2"/>
<text x="95.69" y="1152.56" font-size="28.6" font-family="Liberation Sans, sans-serif">0</text>
<line x1="116.00" y1="1058.52" x2="128.00" y2="1058.52" stroke="#000" stroke-width="2"/>
<text x="95.69" y="1067.82" font-size="28.6" font-family="Liberation Sans, sans-serif"> </text><path transform="translate(95.69,1067.82) scale(28.6)" d="M0.356,0 L0.356,-0.688 L0.29,-0.688 C0.283,-0.645 0.25,-0.607 0.2,-0.592 C0.16,-0.58 0.13,-0.576 0.107,-0.574 L0.107,-0.512 L0.274,-0.515 L0.274,0 Z" fill="#000"/>
<line x1="116.00" y1="973.78" x2="128.00" y2="973.78" stroke="#000" stroke-width="2"/>
<text x="95.69" y="983.08" font-size="28.6" font-family="Liberation Sans, sans-serif">2</text>
<line x1="116.00" y1="889.04" x2="128.00" y2="889.04" stroke="#000" stroke-width="2"/>
<text x="95.69" y="898.34" font-size="28.6" font-family="Liberation Sans, sans-serif">3</text>
<line x1="116.00" y1="804.30" x2="128.00" y2="804.30" stroke="#000" stroke-width="2"/>
<text x="95.69" y="813.60" font-size="28.6" font-family="Liberation Sans, sans-serif">4</text>
<line x1="128.00" y1="1228.00" x2="128.00" y2="1240.00" stroke="#000" stroke-width="2"/>
<text x="114.59" y="1270.50" font-size="28.6" font-family="Liberation Sans, sans-serif">-</text><text x="124.91" y="1270.50" font-size="28.6" font-family="Liberation Sans, sans-serif">5</text>
<line x1="286.78" y1="1228.00" x2="286.78" y2="1240.00" stroke="#000" stroke-width="2"/>
<text x="273.37" y="1270.50" font-size="28.6" font-family="Liberation Sans, sans-serif">-</text><text x="283.69" y="1270.50" font-size="28.6" font-family="Liberation Sans, sans-serif">4</text>
<line x1="445.56" y1="1228.00" x2="445.56" y2="1240.00" stroke="#000" stroke-width="2"/>
<text x="432.15" y="1270.50" font-size="28.6" font-family="Liberation Sans, sans-serif">-</text><text x="442.47" y="1270.50" font-size="28.6" font-family="Liberation Sans, sans-serif">3</text>
<line x1="604.34" y1="1228.00" x2="604.34" y2="1240.00" stroke="#000" stroke-width="2"/>
<text x="590.93" y="1270.50" font-size="28.6" font-family="Liberation Sans, sans-serif">-</text><text x="601.25" y="1270.50" font-size="28.6" font-family="Liberation Sans, sans-serif">2</text>
<line x1="763.12" y1="1228.00" x2="763.12" y2="1240.00" stroke="#000" stroke-width="2"/>
<text x="749.71" y="1270.50" font-size="28.6" font-family="Liberation Sans, sans-serif">-</text><text x="760.03" y="1270.50" font-size="28.6" font-family="Liberation Sans, sans-serif"> </text><path transform="translate(760.03,1270.50) scale(28.6)" d="M0.356,0 L0.356,-0.688 L0.29,-0.688 C0.283,-0.645 0.25,-0.607 0.2,-0.592 C0.16,-0.58 0.13,-0.576 0.107,-0.574 L0.107,-0.512 L0.274,-0.515 L0.274,0 Z" fill="#000"/>
<text transform="translate(302.6,1326.50) scale(1,1.025)" font-size="35.3" font-weight="bold" font-family="Liberation Sans, sans-serif">Log Serum Titers</text>
<text transform="translate(58.0,1145.76) rotate(-90) scale(1,1.045)" x="0" y="0" font-size="34.8" font-weight="bold" font-family="Liberation Sans, sans-serif">ELISA OD 490 nm</text>
<text transform="translate(181,748.9) scale(1,1.04)" font-size="41.7" font-weight="bold" font-family="Liberation Sans, sans-serif">B</text>
<path d="M317.58,1140.71 L319.99,1140.35 L322.40,1139.99 L324.81,1139.63 L327.22,1139.26 L329.63,1138.90 L332.04,1138.52 L334.45,1138.15 L336.86,1137.77 L339.27,1137.38 L341.68,1137.00 L344.09,1136.61 L346.50,1136.21 L348.91,1135.82 L351.32,1135.42 L353.73,1135.01 L356.14,1134.60 L358.55,1134.19 L360.96,1133.77 L363.37,1133.35 L365.78,1132.93 L368.19,1132.50 L370.60,1132.07 L373.01,1131.64 L375.42,1131.20 L377.83,1130.76 L380.24,1130.31 L382.65,1129.86 L385.06,1129.40 L387.47,1128.95 L389.87,1128.48 L392.28,1128.02 L394.69,1127.55 L397.10,1127.07 L399.51,1126.59 L401.92,1126.11 L404.33,1125.62 L406.74,1125.13 L409.15,1124.63 L411.56,1124.13 L413.97,1123.63 L416.38,1123.12 L418.79,1122.60 L421.20,1122.08 L423.61,1121.56 L426.02,1121.03 L428.43,1120.50 L430.84,1119.97 L433.25,1119.43 L435.66,1118.88 L438.07,1118.33 L440.48,1117.78 L442.89,1117.22 L445.30,1116.65 L447.71,1116.08 L450.12,1115.51 L452.53,1114.93 L454.94,1114.35 L457.35,1113.76 L459.76,1113.17 L462.17,1112.57 L464.58,1111.97 L466.99,1111.36 L469.40,1110.75 L471.81,1110.13 L474.22,1109.51 L476.62,1108.88 L479.03,1108.25 L481.44,1107.61 L483.85,1106.97 L486.26,1106.32 L488.67,1105.67 L491.08,1105.01 L493.49,1104.35 L495.90,1103.68 L498.31,1103.00 L500.72,1102.32 L503.13,1101.64 L505.54,1100.95 L507.95,1100.26 L510.36,1099.55 L512.77,1098.85 L515.18,1098.14 L517.59,1097.42 L520.00,1096.70 L522.41,1095.97 L524.82,1095.24 L527.23,1094.50 L529.64,1093.75 L532.05,1093.01 L534.46,1092.25 L536.87,1091.49 L539.28,1090.72 L541.69,1089.95 L544.10,1089.17 L546.51,1088.39 L548.92,1087.60 L551.33,1086.80 L553.74,1086.00 L556.15,1085.20 L558.56,1084.39 L560.97,1083.57 L563.37,1082.74 L565.78,1081.91 L568.19,1081.08 L570.60,1080.24 L573.01,1079.39 L575.42,1078.54 L577.83,1077.68 L580.24,1076.82 L582.65,1075.95 L585.06,1075.07 L587.47,1074.19 L589.88,1073.30 L592.29,1072.41 L594.70,1071.51 L597.11,1070.60 L599.52,1069.69 L601.93,1068.77 L604.34,1067.85" fill="none" stroke="#0b0aa4" stroke-width="2.5"/>
<circle cx="317.58" cy="1140.72" r="6.35" fill="#fff" stroke="#0b0aa4" stroke-width="4.3"/>
<circle cx="413.17" cy="1123.77" r="6.35" fill="#fff" stroke="#0b0aa4" stroke-width="4.3"/>
<circle cx="508.75" cy="1100.04" r="6.35" fill="#fff" stroke="#0b0aa4" stroke-width="4.3"/>
<circle cx="604.34" cy="1067.84" r="6.35" fill="#fff" stroke="#0b0aa4" stroke-width="4.3"/>
<path d="M271.38,1122.66 L274.18,1122.09 L276.97,1121.49 L279.77,1120.87 L282.57,1120.23 L285.37,1119.57 L288.17,1118.87 L290.96,1118.15 L293.76,1117.41 L296.56,1116.63 L299.36,1115.83 L302.16,1115.00 L304.95,1114.14 L307.75,1113.24 L310.55,1112.31 L313.35,1111.36 L316.15,1110.36 L318.94,1109.34 L321.74,1108.27 L324.54,1107.17 L327.34,1106.04 L330.14,1104.87 L332.93,1103.65 L335.73,1102.41 L338.53,1101.12 L341.33,1099.79 L344.13,1098.42 L346.92,1097.01 L349.72,1095.56 L352.52,1094.06 L355.32,1092.53 L358.12,1090.95 L360.91,1089.33 L363.71,1087.67 L366.51,1085.96 L369.31,1084.22 L372.11,1082.43 L374.90,1080.60 L377.70,1078.73 L380.50,1076.81 L383.30,1074.86 L386.10,1072.86 L388.89,1070.83 L391.69,1068.76 L394.49,1066.65 L397.29,1064.51 L400.09,1062.33 L402.88,1060.12 L405.68,1057.87 L408.48,1055.60 L411.28,1053.29 L414.08,1050.96 L416.87,1048.60 L419.67,1046.22 L422.47,1043.82 L425.27,1041.40 L428.07,1038.97 L430.86,1036.51 L433.66,1034.05 L436.46,1031.57 L439.26,1029.09 L442.06,1026.60 L444.85,1024.11 L447.65,1021.62 L450.45,1019.13 L453.25,1016.64 L456.05,1014.16 L458.84,1011.69 L461.64,1009.24 L464.44,1006.79 L467.24,1004.36 L470.04,1001.95 L472.83,999.56 L475.63,997.19 L478.43,994.85 L481.23,992.53 L484.03,990.24 L486.82,987.98 L489.62,985.76 L492.42,983.56 L495.22,981.40 L498.02,979.27 L500.81,977.18 L503.61,975.13 L506.41,973.12 L509.21,971.15 L512.01,969.21 L514.80,967.32 L517.60,965.47 L520.40,963.66 L523.20,961.89 L526.00,960.17 L528.79,958.48 L531.59,956.84 L534.39,955.25 L537.19,953.69 L539.99,952.18 L542.78,950.71 L545.58,949.28 L548.38,947.89 L551.18,946.54 L553.98,945.23 L556.77,943.96 L559.57,942.73 L562.37,941.54 L565.17,940.39 L567.97,939.27 L570.76,938.19 L573.56,937.15 L576.36,936.14 L579.16,935.16 L581.96,934.22 L584.75,933.31 L587.55,932.43 L590.35,931.58 L593.15,930.77 L595.95,929.98 L598.74,929.22 L601.54,928.49 L604.34,927.78" fill="none" stroke="#000" stroke-width="2.5"/>
<path d="M271.38,1134.19 L274.18,1134.12 L276.97,1134.04 L279.77,1133.97 L282.57,1133.88 L285.37,1133.80 L288.17,1133.71 L290.96,1133.62 L293.76,1133.52 L296.56,1133.42 L299.36,1133.31 L302.16,1133.20 L304.95,1133.09 L307.75,1132.97 L310.55,1132.84 L313.35,1132.71 L316.15,1132.58 L318.94,1132.44 L321.74,1132.29 L324.54,1132.14 L327.34,1131.98 L330.14,1131.81 L332.93,1131.64 L335.73,1131.46 L338.53,1131.27 L341.33,1131.08 L344.13,1130.87 L346.92,1130.66 L349.72,1130.44 L352.52,1130.21 L355.32,1129.97 L358.12,1129.72 L360.91,1129.46 L363.71,1129.19 L366.51,1128.91 L369.31,1128.62 L372.11,1128.32 L374.90,1128.00 L377.70,1127.67 L380.50,1127.33 L383.30,1126.97 L386.10,1126.60 L388.89,1126.22 L391.69,1125.82 L394.49,1125.40 L397.29,1124.97 L400.09,1124.52 L402.88,1124.06 L405.68,1123.57 L408.48,1123.07 L411.28,1122.55 L414.08,1122.01 L416.87,1121.44 L419.67,1120.86 L422.47,1120.26 L425.27,1119.63 L428.07,1118.98 L430.86,1118.30 L433.66,1117.60 L436.46,1116.88 L439.26,1116.13 L442.06,1115.35 L444.85,1114.55 L447.65,1113.72 L450.45,1112.86 L453.25,1111.97 L456.05,1111.05 L458.84,1110.10 L461.64,1109.12 L464.44,1108.11 L467.24,1107.06 L470.04,1105.98 L472.83,1104.87 L475.63,1103.72 L478.43,1102.54 L481.23,1101.33 L484.03,1100.08 L486.82,1098.79 L489.62,1097.46 L492.42,1096.10 L495.22,1094.70 L498.02,1093.27 L500.81,1091.80 L503.61,1090.29 L506.41,1088.74 L509.21,1087.15 L512.01,1085.53 L514.80,1083.87 L517.60,1082.18 L520.40,1080.44 L523.20,1078.67 L526.00,1076.87 L528.79,1075.03 L531.59,1073.15 L534.39,1071.25 L537.19,1069.31 L539.99,1067.33 L542.78,1065.33 L545.58,1063.30 L548.38,1061.24 L551.18,1059.15 L553.98,1057.04 L556.77,1054.90 L559.57,1052.74 L562.37,1050.56 L565.17,1048.36 L567.97,1046.14 L570.76,1043.91 L573.56,1041.66 L576.36,1039.40 L579.16,1037.13 L581.96,1034.85 L584.75,1032.57 L587.55,1030.28 L590.35,1027.99 L593.15,1025.70 L595.95,1023.42 L598.74,1021.13 L601.54,1018.86 L604.34,1016.59" fill="none" stroke="#000" stroke-width="2.5"/>
<path d="M271.38,1143.20 L274.18,1143.15 L276.97,1143.09 L279.77,1143.04 L282.57,1142.98 L285.37,1142.91 L288.17,1142.84 L290.96,1142.77 L293.76,1142.69 L296.56,1142.60 L299.36,1142.51 L302.16,1142.42 L304.95,1142.32 L307.75,1142.21 L310.55,1142.09 L313.35,1141.97 L316.15,1141.84 L318.94,1141.71 L321.74,1141.56 L324.54,1141.41 L327.34,1141.24 L330.14,1141.07 L332.93,1140.89 L335.73,1140.69 L338.53,1140.49 L341.33,1140.27 L344.13,1140.04 L346.92,1139.80 L349.72,1139.55 L352.52,1139.28 L355.32,1138.99 L358.12,1138.70 L360.91,1138.39 L363.71,1138.06 L366.51,1137.71 L369.31,1137.35 L372.11,1136.98 L374.90,1136.58 L377.70,1136.17 L380.50,1135.75 L383.30,1135.30 L386.10,1134.84 L388.89,1134.36 L391.69,1133.86 L394.49,1133.35 L397.29,1132.81 L400.09,1132.27 L402.88,1131.70 L405.68,1131.12 L408.48,1130.53 L411.28,1129.92 L414.08,1129.30 L416.87,1128.67 L419.67,1128.02 L422.47,1127.37 L425.27,1126.71 L428.07,1126.04 L430.86,1125.36 L433.66,1124.68 L436.46,1124.00 L439.26,1123.31 L442.06,1122.63 L444.85,1121.95 L447.65,1121.27 L450.45,1120.59 L453.25,1119.92 L456.05,1119.26 L458.84,1118.61 L461.64,1117.97 L464.44,1117.34 L467.24,1116.72 L470.04,1116.11 L472.83,1115.52 L475.63,1114.94 L478.43,1114.38 L481.23,1113.83 L484.03,1113.30 L486.82,1112.79 L489.62,1112.29 L492.42,1111.81 L495.22,1111.35 L498.02,1110.91 L500.81,1110.48 L503.61,1110.07 L506.41,1109.68 L509.21,1109.30 L512.01,1108.95 L514.80,1108.60 L517.60,1108.28 L520.40,1107.97 L523.20,1107.67 L526.00,1107.39 L528.79,1107.12 L531.59,1106.87 L534.39,1106.63 L537.19,1106.40 L539.99,1106.18 L542.78,1105.98 L545.58,1105.79 L548.38,1105.61 L551.18,1105.43 L553.98,1105.27 L556.77,1105.12 L559.57,1104.97 L562.37,1104.84 L565.17,1104.71 L567.97,1104.59 L570.76,1104.47 L573.56,1104.37 L576.36,1104.27 L579.16,1104.17 L581.96,1104.08 L584.75,1104.00 L587.55,1103.92 L590.35,1103.85 L593.15,1103.78 L595.95,1103.71 L598.74,1103.65 L601.54,1103.59 L604.34,1103.54" fill="none" stroke="#000" stroke-width="2.5"/>
<path d="M271.38,1120.64 L274.18,1119.81 L276.97,1118.95 L279.77,1118.07 L282.57,1117.17 L285.37,1116.24 L288.17,1115.30 L290.96,1114.33 L293.76,1113.33 L296.56,1112.31 L299.36,1111.27 L302.16,1110.20 L304.95,1109.11 L307.75,1108.00 L310.55,1106.85 L313.35,1105.68 L316.15,1104.49 L318.94,1103.26 L321.74,1102.02 L324.54,1100.74 L327.34,1099.43 L330.14,1098.10 L332.93,1096.74 L335.73,1095.35 L338.53,1093.93 L341.33,1092.49 L344.13,1091.01 L346.92,1089.51 L349.72,1087.98 L352.52,1086.41 L355.32,1084.82 L358.12,1083.20 L360.91,1081.55 L363.71,1079.87 L366.51,1078.16 L369.31,1076.42 L372.11,1074.65 L374.90,1072.85 L377.70,1071.03 L380.50,1069.17 L383.30,1067.29 L386.10,1065.37 L388.89,1063.43 L391.69,1061.46 L394.49,1059.47 L397.29,1057.45 L400.09,1055.40 L402.88,1053.32 L405.68,1051.22 L408.48,1049.10 L411.28,1046.95 L414.08,1044.77 L416.87,1042.58 L419.67,1040.36 L422.47,1038.12 L425.27,1035.86 L428.07,1033.57 L430.86,1031.27 L433.66,1028.95 L436.46,1026.62 L439.26,1024.26 L442.06,1021.90 L444.85,1019.51 L447.65,1017.12 L450.45,1014.71 L453.25,1012.28 L456.05,1009.85 L458.84,1007.41 L461.64,1004.96 L464.44,1002.51 L467.24,1000.05 L470.04,997.58 L472.83,995.11 L475.63,992.64 L478.43,990.17 L481.23,987.69 L484.03,985.22 L486.82,982.75 L489.62,980.29 L492.42,977.82 L495.22,975.37 L498.02,972.92 L500.81,970.48 L503.61,968.05 L506.41,965.63 L509.21,963.22 L512.01,960.83 L514.80,958.44 L517.60,956.07 L520.40,953.72 L523.20,951.39 L526.00,949.07 L528.79,946.77 L531.59,944.49 L534.39,942.23 L537.19,939.99 L539.99,937.77 L542.78,935.57 L545.58,933.40 L548.38,931.25 L551.18,929.13 L553.98,927.03 L556.77,924.96 L559.57,922.91 L562.37,920.89 L565.17,918.89 L567.97,916.93 L570.76,914.99 L573.56,913.08 L576.36,911.19 L579.16,909.34 L581.96,907.51 L584.75,905.72 L587.55,903.95 L590.35,902.21 L593.15,900.50 L595.95,898.83 L598.74,897.18 L601.54,895.56 L604.34,893.97" fill="none" stroke="#000" stroke-width="2.5"/>
<path d="M271.38,1119.32 L274.18,1118.55 L276.97,1117.76 L279.77,1116.95 L282.57,1116.11 L285.37,1115.25 L288.17,1114.37 L290.96,1113.46 L293.76,1112.53 L296.56,1111.57 L299.36,1110.58 L302.16,1109.57 L304.95,1108.53 L307.75,1107.47 L310.55,1106.37 L313.35,1105.25 L316.15,1104.10 L318.94,1102.92 L321.74,1101.71 L324.54,1100.46 L327.34,1099.19 L330.14,1097.89 L332.93,1096.56 L335.73,1095.20 L338.53,1093.80 L341.33,1092.38 L344.13,1090.92 L346.92,1089.43 L349.72,1087.90 L352.52,1086.35 L355.32,1084.76 L358.12,1083.14 L360.91,1081.49 L363.71,1079.80 L366.51,1078.09 L369.31,1076.34 L372.11,1074.56 L374.90,1072.75 L377.70,1070.90 L380.50,1069.03 L383.30,1067.12 L386.10,1065.19 L388.89,1063.22 L391.69,1061.23 L394.49,1059.20 L397.29,1057.15 L400.09,1055.07 L402.88,1052.97 L405.68,1050.83 L408.48,1048.68 L411.28,1046.50 L414.08,1044.29 L416.87,1042.06 L419.67,1039.82 L422.47,1037.55 L425.27,1035.26 L428.07,1032.96 L430.86,1030.63 L433.66,1028.30 L436.46,1025.94 L439.26,1023.58 L442.06,1021.20 L444.85,1018.82 L447.65,1016.42 L450.45,1014.02 L453.25,1011.61 L456.05,1009.20 L458.84,1006.78 L461.64,1004.36 L464.44,1001.95 L467.24,999.53 L470.04,997.12 L472.83,994.71 L475.63,992.30 L478.43,989.91 L481.23,987.52 L484.03,985.14 L486.82,982.77 L489.62,980.42 L492.42,978.08 L495.22,975.75 L498.02,973.44 L500.81,971.15 L503.61,968.88 L506.41,966.62 L509.21,964.39 L512.01,962.18 L514.80,959.99 L517.60,957.83 L520.40,955.69 L523.20,953.58 L526.00,951.50 L528.79,949.44 L531.59,947.41 L534.39,945.41 L537.19,943.43 L539.99,941.49 L542.78,939.58 L545.58,937.70 L548.38,935.84 L551.18,934.02 L553.98,932.24 L556.77,930.48 L559.57,928.76 L562.37,927.06 L565.17,925.40 L567.97,923.78 L570.76,922.18 L573.56,920.62 L576.36,919.09 L579.16,917.59 L581.96,916.12 L584.75,914.69 L587.55,913.29 L590.35,911.92 L593.15,910.58 L595.95,909.27 L598.74,907.99 L601.54,906.74 L604.34,905.52" fill="none" stroke="#000" stroke-width="2.5"/>
<path d="M271.38,1131.43 L274.18,1131.31 L276.97,1131.18 L279.77,1131.05 L282.57,1130.91 L285.37,1130.76 L288.17,1130.61 L290.96,1130.46 L293.76,1130.29 L296.56,1130.12 L299.36,1129.94 L302.16,1129.75 L304.95,1129.56 L307.75,1129.35 L310.55,1129.14 L313.35,1128.92 L316.15,1128.69 L318.94,1128.45 L321.74,1128.20 L324.54,1127.94 L327.34,1127.66 L330.14,1127.38 L332.93,1127.08 L335.73,1126.78 L338.53,1126.45 L341.33,1126.12 L344.13,1125.77 L346.92,1125.41 L349.72,1125.03 L352.52,1124.63 L355.32,1124.22 L358.12,1123.80 L360.91,1123.35 L363.71,1122.89 L366.51,1122.41 L369.31,1121.91 L372.11,1121.39 L374.90,1120.85 L377.70,1120.29 L380.50,1119.70 L383.30,1119.10 L386.10,1118.47 L388.89,1117.81 L391.69,1117.14 L394.49,1116.43 L397.29,1115.70 L400.09,1114.94 L402.88,1114.16 L405.68,1113.35 L408.48,1112.50 L411.28,1111.63 L414.08,1110.73 L416.87,1109.79 L419.67,1108.82 L422.47,1107.82 L425.27,1106.79 L428.07,1105.72 L430.86,1104.62 L433.66,1103.48 L436.46,1102.30 L439.26,1101.09 L442.06,1099.84 L444.85,1098.56 L447.65,1097.23 L450.45,1095.87 L453.25,1094.47 L456.05,1093.03 L458.84,1091.55 L461.64,1090.03 L464.44,1088.47 L467.24,1086.87 L470.04,1085.24 L472.83,1083.56 L475.63,1081.85 L478.43,1080.10 L481.23,1078.31 L484.03,1076.48 L486.82,1074.62 L489.62,1072.72 L492.42,1070.78 L495.22,1068.82 L498.02,1066.82 L500.81,1064.78 L503.61,1062.72 L506.41,1060.63 L509.21,1058.51 L512.01,1056.37 L514.80,1054.20 L517.60,1052.01 L520.40,1049.79 L523.20,1047.56 L526.00,1045.31 L528.79,1043.05 L531.59,1040.77 L534.39,1038.49 L537.19,1036.19 L539.99,1033.89 L542.78,1031.58 L545.58,1029.28 L548.38,1026.97 L551.18,1024.66 L553.98,1022.36 L556.77,1020.07 L559.57,1017.79 L562.37,1015.52 L565.17,1013.26 L567.97,1011.02 L570.76,1008.79 L573.56,1006.59 L576.36,1004.40 L579.16,1002.24 L581.96,1000.11 L584.75,998.00 L587.55,995.92 L590.35,993.86 L593.15,991.84 L595.95,989.85 L598.74,987.90 L601.54,985.98 L604.34,984.09" fill="none" stroke="#000" stroke-width="2.5"/>
<path d="M271.38,1133.98 L274.18,1133.85 L276.97,1133.72 L279.77,1133.58 L282.57,1133.43 L285.37,1133.28 L288.17,1133.13 L290.96,1132.96 L293.76,1132.79 L296.56,1132.62 L299.36,1132.44 L302.16,1132.24 L304.95,1132.05 L307.75,1131.84 L310.55,1131.63 L313.35,1131.40 L316.15,1131.17 L318.94,1130.93 L321.74,1130.68 L324.54,1130.42 L327.34,1130.15 L330.14,1129.87 L332.93,1129.58 L335.73,1129.28 L338.53,1128.96 L341.33,1128.64 L344.13,1128.30 L346.92,1127.94 L349.72,1127.58 L352.52,1127.20 L355.32,1126.80 L358.12,1126.39 L360.91,1125.97 L363.71,1125.53 L366.51,1125.07 L369.31,1124.59 L372.11,1124.10 L374.90,1123.59 L377.70,1123.06 L380.50,1122.51 L383.30,1121.94 L386.10,1121.35 L388.89,1120.74 L391.69,1120.11 L394.49,1119.46 L397.29,1118.78 L400.09,1118.07 L402.88,1117.35 L405.68,1116.60 L408.48,1115.82 L411.28,1115.01 L414.08,1114.18 L416.87,1113.32 L419.67,1112.43 L422.47,1111.51 L425.27,1110.57 L428.07,1109.59 L430.86,1108.58 L433.66,1107.54 L436.46,1106.46 L439.26,1105.36 L442.06,1104.22 L444.85,1103.04 L447.65,1101.83 L450.45,1100.58 L453.25,1099.30 L456.05,1097.98 L458.84,1096.63 L461.64,1095.24 L464.44,1093.81 L467.24,1092.34 L470.04,1090.83 L472.83,1089.29 L475.63,1087.71 L478.43,1086.09 L481.23,1084.43 L484.03,1082.73 L486.82,1080.99 L489.62,1079.21 L492.42,1077.40 L495.22,1075.55 L498.02,1073.66 L500.81,1071.73 L503.61,1069.77 L506.41,1067.77 L509.21,1065.74 L512.01,1063.67 L514.80,1061.57 L517.60,1059.44 L520.40,1057.27 L523.20,1055.08 L526.00,1052.86 L528.79,1050.60 L531.59,1048.33 L534.39,1046.02 L537.19,1043.70 L539.99,1041.35 L542.78,1038.98 L545.58,1036.60 L548.38,1034.19 L551.18,1031.78 L553.98,1029.35 L556.77,1026.90 L559.57,1024.45 L562.37,1022.00 L565.17,1019.54 L567.97,1017.07 L570.76,1014.61 L573.56,1012.14 L576.36,1009.68 L579.16,1007.23 L581.96,1004.78 L584.75,1002.34 L587.55,999.91 L590.35,997.50 L593.15,995.10 L595.95,992.72 L598.74,990.35 L601.54,988.01 L604.34,985.69" fill="none" stroke="#000" stroke-width="2.5"/>
<path d="M271.38,1115.89 L274.18,1114.82 L276.97,1113.74 L279.77,1112.63 L282.57,1111.50 L285.37,1110.34 L288.17,1109.16 L290.96,1107.96 L293.76,1106.73 L296.56,1105.48 L299.36,1104.20 L302.16,1102.90 L304.95,1101.58 L307.75,1100.23 L310.55,1098.85 L313.35,1097.45 L316.15,1096.03 L318.94,1094.58 L321.74,1093.10 L324.54,1091.60 L327.34,1090.08 L330.14,1088.53 L332.93,1086.95 L335.73,1085.35 L338.53,1083.73 L341.33,1082.08 L344.13,1080.41 L346.92,1078.71 L349.72,1076.99 L352.52,1075.25 L355.32,1073.48 L358.12,1071.69 L360.91,1069.88 L363.71,1068.04 L366.51,1066.19 L369.31,1064.31 L372.11,1062.41 L374.90,1060.49 L377.70,1058.55 L380.50,1056.59 L383.30,1054.62 L386.10,1052.62 L388.89,1050.61 L391.69,1048.58 L394.49,1046.54 L397.29,1044.48 L400.09,1042.40 L402.88,1040.31 L405.68,1038.21 L408.48,1036.10 L411.28,1033.97 L414.08,1031.84 L416.87,1029.69 L419.67,1027.54 L422.47,1025.38 L425.27,1023.21 L428.07,1021.04 L430.86,1018.86 L433.66,1016.67 L436.46,1014.49 L439.26,1012.30 L442.06,1010.11 L444.85,1007.92 L447.65,1005.73 L450.45,1003.54 L453.25,1001.35 L456.05,999.17 L458.84,996.99 L461.64,994.82 L464.44,992.65 L467.24,990.50 L470.04,988.35 L472.83,986.20 L475.63,984.07 L478.43,981.95 L481.23,979.84 L484.03,977.75 L486.82,975.67 L489.62,973.60 L492.42,971.54 L495.22,969.51 L498.02,967.48 L500.81,965.48 L503.61,963.49 L506.41,961.52 L509.21,959.57 L512.01,957.64 L514.80,955.73 L517.60,953.84 L520.40,951.97 L523.20,950.13 L526.00,948.30 L528.79,946.50 L531.59,944.72 L534.39,942.96 L537.19,941.22 L539.99,939.51 L542.78,937.83 L545.58,936.16 L548.38,934.53 L551.18,932.91 L553.98,931.32 L556.77,929.76 L559.57,928.22 L562.37,926.70 L565.17,925.22 L567.97,923.75 L570.76,922.31 L573.56,920.90 L576.36,919.51 L579.16,918.14 L581.96,916.80 L584.75,915.49 L587.55,914.20 L590.35,912.93 L593.15,911.69 L595.95,910.47 L598.74,909.28 L601.54,908.11 L604.34,906.96" fill="none" stroke="#000" stroke-width="2.5"/>
<polygon points="271.38,1130.74 277.88,1117.74 264.88,1117.74" fill="#fff" stroke="#000" stroke-width="2.3" stroke-linejoin="round"/>
<polygon points="382.37,1085.83 388.87,1072.83 375.87,1072.83" fill="#fff" stroke="#000" stroke-width="2.3" stroke-linejoin="round"/>
<polygon points="493.35,987.53 499.85,974.53 486.85,974.53" fill="#fff" stroke="#000" stroke-width="2.3" stroke-linejoin="round"/>
<polygon points="604.34,934.99 610.84,921.99 597.84,921.99" fill="#fff" stroke="#000" stroke-width="2.3" stroke-linejoin="round"/>
<polygon points="271.38,1130.36 277.88,1143.36 264.88,1143.36" fill="#fff" stroke="#000" stroke-width="2.3" stroke-linejoin="round"/>
<polygon points="382.37,1120.19 388.87,1133.19 375.87,1133.19" fill="#fff" stroke="#000" stroke-width="2.3" stroke-linejoin="round"/>
<polygon points="493.35,1091.63 499.85,1104.63 486.85,1104.63" fill="#fff" stroke="#000" stroke-width="2.3" stroke-linejoin="round"/>
<polygon points="604.34,1007.06 610.84,1020.06 597.84,1020.06" fill="#fff" stroke="#000" stroke-width="2.3" stroke-linejoin="round"/>
<rect x="264.88" y="1135.07" width="13.00" height="13.00" fill="#fff" stroke="#000" stroke-width="2.3"/>
<rect x="375.87" y="1136.42" width="13.00" height="13.00" fill="#fff" stroke="#000" stroke-width="2.3"/>
<rect x="486.85" y="1097.78" width="13.00" height="13.00" fill="#fff" stroke="#000" stroke-width="2.3"/>
<rect x="597.84" y="1100.75" width="13.00" height="13.00" fill="#fff" stroke="#000" stroke-width="2.3"/>
<circle cx="271.38" cy="1120.38" r="6.50" fill="#000"/>
<circle cx="382.37" cy="1068.69" r="6.50" fill="#000"/>
<circle cx="493.35" cy="975.47" r="6.50" fill="#000"/>
<circle cx="604.34" cy="892.43" r="6.50" fill="#000"/>
<polygon points="271.38,1113.03 277.88,1119.53 271.38,1126.03 264.88,1119.53" fill="#000"/>
<polygon points="382.37,1060.49 388.87,1066.99 382.37,1073.49 375.87,1066.99" fill="#000"/>
<polygon points="493.35,971.52 499.85,978.02 493.35,984.52 486.85,978.02" fill="#000"/>
<polygon points="604.34,899.49 610.84,905.99 604.34,912.49 597.84,905.99" fill="#000"/>
<polygon points="271.38,1142.10 277.88,1129.10 264.88,1129.10" fill="#000"/>
<polygon points="382.37,1123.96 388.87,1110.96 375.87,1110.96" fill="#000"/>
<polygon points="493.35,1082.44 499.85,1069.44 486.85,1069.44" fill="#000"/>
<polygon points="604.34,993.46 610.84,980.46 597.84,980.46" fill="#000"/>
<polygon points="271.38,1133.07 277.88,1146.07 264.88,1146.07" fill="#000"/>
<polygon points="493.35,1065.11 499.85,1078.11 486.85,1078.11" fill="#000"/>
<polygon points="604.34,976.13 610.84,989.13 597.84,989.13" fill="#000"/>
<rect x="264.88" y="1108.29" width="13.00" height="13.00" fill="#000"/>
<rect x="375.87" y="1046.94" width="13.00" height="13.00" fill="#000"/>
<rect x="486.85" y="964.74" width="13.00" height="13.00" fill="#000"/>
<rect x="597.84" y="900.34" width="13.00" height="13.00" fill="#000"/>
<rect x="831.90" y="828.70" width="13.00" height="13.00" fill="#000"/>
<text x="878.50" y="848.80" font-size="35" font-family="Liberation Sans, sans-serif">4034 - 62.8</text>
<g transform="translate(1057.38,848.80) scale(1.000)" fill="none" stroke="#000"><path d="M2.55,-17.7 V0" stroke-width="3.1"/><path d="M1.5,-0.5 C1.5,2.5 0,4 0,5.8 C0,7.2 0.9,7.8 1.85,7.8 C2.8,7.8 3.7,7.2 3.7,5.8 C3.7,4 3.4,2.5 3.4,-0.5 Z" fill="#000" stroke="none"/><path d="M2.55,-4 C2.8,-0.5 4.5,1.0 6.8,1.0 C9.5,1.0 11.5,-1.5 12.9,-5" stroke-width="2.8"/><path d="M12.95,-17.7 V-2.5" stroke-width="3.4"/><path d="M12.95,-3 C13.2,0 14.3,1.0 15.6,1.0 C17,1.0 17.8,-0.5 18.3,-2.8" stroke-width="2.2"/></g>
<text x="1074.38" y="848.80" font-size="35" font-family="Liberation Sans, sans-serif">g/mL</text>
<polygon points="838.40,877.43 844.90,890.43 831.90,890.43" fill="#000"/>
<text x="878.50" y="897.53" font-size="35" font-family="Liberation Sans, sans-serif">4035 - 20.5</text>
<g transform="translate(1057.38,897.53) scale(1.000)" fill="none" stroke="#000"><path d="M2.55,-17.7 V0" stroke-width="3.1"/><path d="M1.5,-0.5 C1.5,2.5 0,4 0,5.8 C0,7.2 0.9,7.8 1.85,7.8 C2.8,7.8 3.7,7.2 3.7,5.8 C3.7,4 3.4,2.5 3.4,-0.5 Z" fill="#000" stroke="none"/><path d="M2.55,-4 C2.8,-0.5 4.5,1.0 6.8,1.0 C9.5,1.0 11.5,-1.5 12.9,-5" stroke-width="2.8"/><path d="M12.95,-17.7 V-2.5" stroke-width="3.4"/><path d="M12.95,-3 C13.2,0 14.3,1.0 15.6,1.0 C17,1.0 17.8,-0.5 18.3,-2.8" stroke-width="2.2"/></g>
<text x="1074.38" y="897.53" font-size="35" font-family="Liberation Sans, sans-serif">g/mL</text>
<polygon points="838.40,939.16 844.90,926.16 831.90,926.16" fill="#000"/>
<text x="878.50" y="946.26" font-size="35" font-family="Liberation Sans, sans-serif">4036 - 2 .3</text><path transform="translate(1006.93,946.26) scale(35)" d="M0.356,0 L0.356,-0.688 L0.29,-0.688 C0.283,-0.645 0.25,-0.607 0.2,-0.592 C0.16,-0.58 0.13,-0.576 0.107,-0.574 L0.107,-0.512 L0.274,-0.515 L0.274,0 Z" fill="#000"/>
<g transform="translate(1057.38,946.26) scale(1.000)" fill="none" stroke="#000"><path d="M2.55,-17.7 V0" stroke-width="3.1"/><path d="M1.5,-0.5 C1.5,2.5 0,4 0,5.8 C0,7.2 0.9,7.8 1.85,7.8 C2.8,7.8 3.7,7.2 3.7,5.8 C3.7,4 3.4,2.5 3.4,-0.5 Z" fill="#000" stroke="none"/><path d="M2.55,-4 C2.8,-0.5 4.5,1.0 6.8,1.0 C9.5,1.0 11.5,-1.5 12.9,-5" stroke-width="2.8"/><path d="M12.95,-17.7 V-2.5" stroke-width="3.4"/><path d="M12.95,-3 C13.2,0 14.3,1.0 15.6,1.0 C17,1.0 17.8,-0.5 18.3,-2.8" stroke-width="2.2"/></g>
<text x="1074.38" y="946.26" font-size="35" font-family="Liberation Sans, sans-serif">g/mL</text>
<polygon points="838.40,974.89 844.90,981.39 838.40,987.89 831.90,981.39" fill="#000"/>
<text x="878.50" y="994.99" font-size="35" font-family="Liberation Sans, sans-serif">4037 - 60.6</text>
<g transform="translate(1057.38,994.99) scale(1.000)" fill="none" stroke="#000"><path d="M2.55,-17.7 V0" stroke-width="3.1"/><path d="M1.5,-0.5 C1.5,2.5 0,4 0,5.8 C0,7.2 0.9,7.8 1.85,7.8 C2.8,7.8 3.7,7.2 3.7,5.8 C3.7,4 3.4,2.5 3.4,-0.5 Z" fill="#000" stroke="none"/><path d="M2.55,-4 C2.8,-0.5 4.5,1.0 6.8,1.0 C9.5,1.0 11.5,-1.5 12.9,-5" stroke-width="2.8"/><path d="M12.95,-17.7 V-2.5" stroke-width="3.4"/><path d="M12.95,-3 C13.2,0 14.3,1.0 15.6,1.0 C17,1.0 17.8,-0.5 18.3,-2.8" stroke-width="2.2"/></g>
<text x="1074.38" y="994.99" font-size="35" font-family="Liberation Sans, sans-serif">g/mL</text>
<circle cx="838.40" cy="1030.12" r="6.50" fill="#000"/>
<text x="878.50" y="1043.72" font-size="35" font-family="Liberation Sans, sans-serif">4038 -  02.7</text><path transform="translate(987.46,1043.72) scale(35)" d="M0.356,0 L0.356,-0.688 L0.29,-0.688 C0.283,-0.645 0.25,-0.607 0.2,-0.592 C0.16,-0.58 0.13,-0.576 0.107,-0.574 L0.107,-0.512 L0.274,-0.515 L0.274,0 Z" fill="#000"/>
<g transform="translate(1076.85,1043.72) scale(1.000)" fill="none" stroke="#000"><path d="M2.55,-17.7 V0" stroke-width="3.1"/><path d="M1.5,-0.5 C1.5,2.5 0,4 0,5.8 C0,7.2 0.9,7.8 1.85,7.8 C2.8,7.8 3.7,7.2 3.7,5.8 C3.7,4 3.4,2.5 3.4,-0.5 Z" fill="#000" stroke="none"/><path d="M2.55,-4 C2.8,-0.5 4.5,1.0 6.8,1.0 C9.5,1.0 11.5,-1.5 12.9,-5" stroke-width="2.8"/><path d="M12.95,-17.7 V-2.5" stroke-width="3.4"/><path d="M12.95,-3 C13.2,0 14.3,1.0 15.6,1.0 C17,1.0 17.8,-0.5 18.3,-2.8" stroke-width="2.2"/></g>
<text x="1093.85" y="1043.72" font-size="35" font-family="Liberation Sans, sans-serif">g/mL</text>
<rect x="831.90" y="1072.35" width="13.00" height="13.00" fill="#fff" stroke="#000" stroke-width="2.3"/>
<text x="878.50" y="1092.45" font-size="35" font-family="Liberation Sans, sans-serif">4039 - 6.25</text>
<g transform="translate(1057.38,1092.45) scale(1.000)" fill="none" stroke="#000"><path d="M2.55,-17.7 V0" stroke-width="3.1"/><path d="M1.5,-0.5 C1.5,2.5 0,4 0,5.8 C0,7.2 0.9,7.8 1.85,7.8 C2.8,7.8 3.7,7.2 3.7,5.8 C3.7,4 3.4,2.5 3.4,-0.5 Z" fill="#000" stroke="none"/><path d="M2.55,-4 C2.8,-0.5 4.5,1.0 6.8,1.0 C9.5,1.0 11.5,-1.5 12.9,-5" stroke-width="2.8"/><path d="M12.95,-17.7 V-2.5" stroke-width="3.4"/><path d="M12.95,-3 C13.2,0 14.3,1.0 15.6,1.0 C17,1.0 17.8,-0.5 18.3,-2.8" stroke-width="2.2"/></g>
<text x="1074.38" y="1092.45" font-size="35" font-family="Liberation Sans, sans-serif">g/mL</text>
<polygon points="838.40,1121.08 844.90,1134.08 831.90,1134.08" fill="#fff" stroke="#000" stroke-width="2.3" stroke-linejoin="round"/>
<text x="878.50" y="1141.18" font-size="35" font-family="Liberation Sans, sans-serif">4040 -  5.3</text><path transform="translate(987.46,1141.18) scale(35)" d="M0.356,0 L0.356,-0.688 L0.29,-0.688 C0.283,-0.645 0.25,-0.607 0.2,-0.592 C0.16,-0.58 0.13,-0.576 0.107,-0.574 L0.107,-0.512 L0.274,-0.515 L0.274,0 Z" fill="#000"/>
<g transform="translate(1057.38,1141.18) scale(1.000)" fill="none" stroke="#000"><path d="M2.55,-17.7 V0" stroke-width="3.1"/><path d="M1.5,-0.5 C1.5,2.5 0,4 0,5.8 C0,7.2 0.9,7.8 1.85,7.8 C2.8,7.8 3.7,7.2 3.7,5.8 C3.7,4 3.4,2.5 3.4,-0.5 Z" fill="#000" stroke="none"/><path d="M2.55,-4 C2.8,-0.5 4.5,1.0 6.8,1.0 C9.5,1.0 11.5,-1.5 12.9,-5" stroke-width="2.8"/><path d="M12.95,-17.7 V-2.5" stroke-width="3.4"/><path d="M12.95,-3 C13.2,0 14.3,1.0 15.6,1.0 C17,1.0 17.8,-0.5 18.3,-2.8" stroke-width="2.2"/></g>
<text x="1074.38" y="1141.18" font-size="35" font-family="Liberation Sans, sans-serif">g/mL</text>
<polygon points="838.40,1182.81 844.90,1169.81 831.90,1169.81" fill="#fff" stroke="#000" stroke-width="2.3" stroke-linejoin="round"/>
<text x="878.50" y="1189.91" font-size="35" font-family="Liberation Sans, sans-serif">4045 - 46.4</text>
<g transform="translate(1057.38,1189.91) scale(1.000)" fill="none" stroke="#000"><path d="M2.55,-17.7 V0" stroke-width="3.1"/><path d="M1.5,-0.5 C1.5,2.5 0,4 0,5.8 C0,7.2 0.9,7.8 1.85,7.8 C2.8,7.8 3.7,7.2 3.7,5.8 C3.7,4 3.4,2.5 3.4,-0.5 Z" fill="#000" stroke="none"/><path d="M2.55,-4 C2.8,-0.5 4.5,1.0 6.8,1.0 C9.5,1.0 11.5,-1.5 12.9,-5" stroke-width="2.8"/><path d="M12.95,-17.7 V-2.5" stroke-width="3.4"/><path d="M12.95,-3 C13.2,0 14.3,1.0 15.6,1.0 C17,1.0 17.8,-0.5 18.3,-2.8" stroke-width="2.2"/></g>
<text x="1074.38" y="1189.91" font-size="35" font-family="Liberation Sans, sans-serif">g/mL</text>
<circle cx="838.40" cy="1226.90" r="6.35" fill="#fff" stroke="#0b0aa4" stroke-width="4.3"/>
<text transform="translate(878.50,1238.64) scale(1,1.025)" font-size="35" font-weight="bold" font-family="Liberation Sans, sans-serif">Donor X064-004b</text>
<g transform="translate(0,1283.64) scale(1,1.025)"><text x="878.50" y="0.00" font-size="35" font-weight="bold" font-family="Liberation Sans, sans-serif">2. </text><path transform="translate(907.69,0.00) scale(35)" d="M0.378,0 L0.378,-0.688 L0.27,-0.688 C0.25,-0.64 0.2,-0.6 0.13,-0.577 C0.1,-0.567 0.08,-0.563 0.069,-0.562 L0.069,-0.49 L0.239,-0.49 L0.239,0 Z" fill="#000"/></g>
<g transform="translate(928.25,1283.64) scale(1.050)" fill="none" stroke="#000"><path d="M2.55,-17.7 V0" stroke-width="3.1"/><path d="M1.5,-0.5 C1.5,2.5 0,4 0,5.8 C0,7.2 0.9,7.8 1.85,7.8 C2.8,7.8 3.7,7.2 3.7,5.8 C3.7,4 3.4,2.5 3.4,-0.5 Z" fill="#000" stroke="none"/><path d="M2.55,-4 C2.8,-0.5 4.5,1.0 6.8,1.0 C9.5,1.0 11.5,-1.5 12.9,-5" stroke-width="2.8"/><path d="M12.95,-17.7 V-2.5" stroke-width="3.4"/><path d="M12.95,-3 C13.2,0 14.3,1.0 15.6,1.0 C17,1.0 17.8,-0.5 18.3,-2.8" stroke-width="2.2"/></g>
<text transform="translate(948.25,1283.64) scale(1,1.025)" font-size="35" font-weight="bold" font-family="Liberation Sans, sans-serif">g/mL</text>
</svg>
</body></html>
